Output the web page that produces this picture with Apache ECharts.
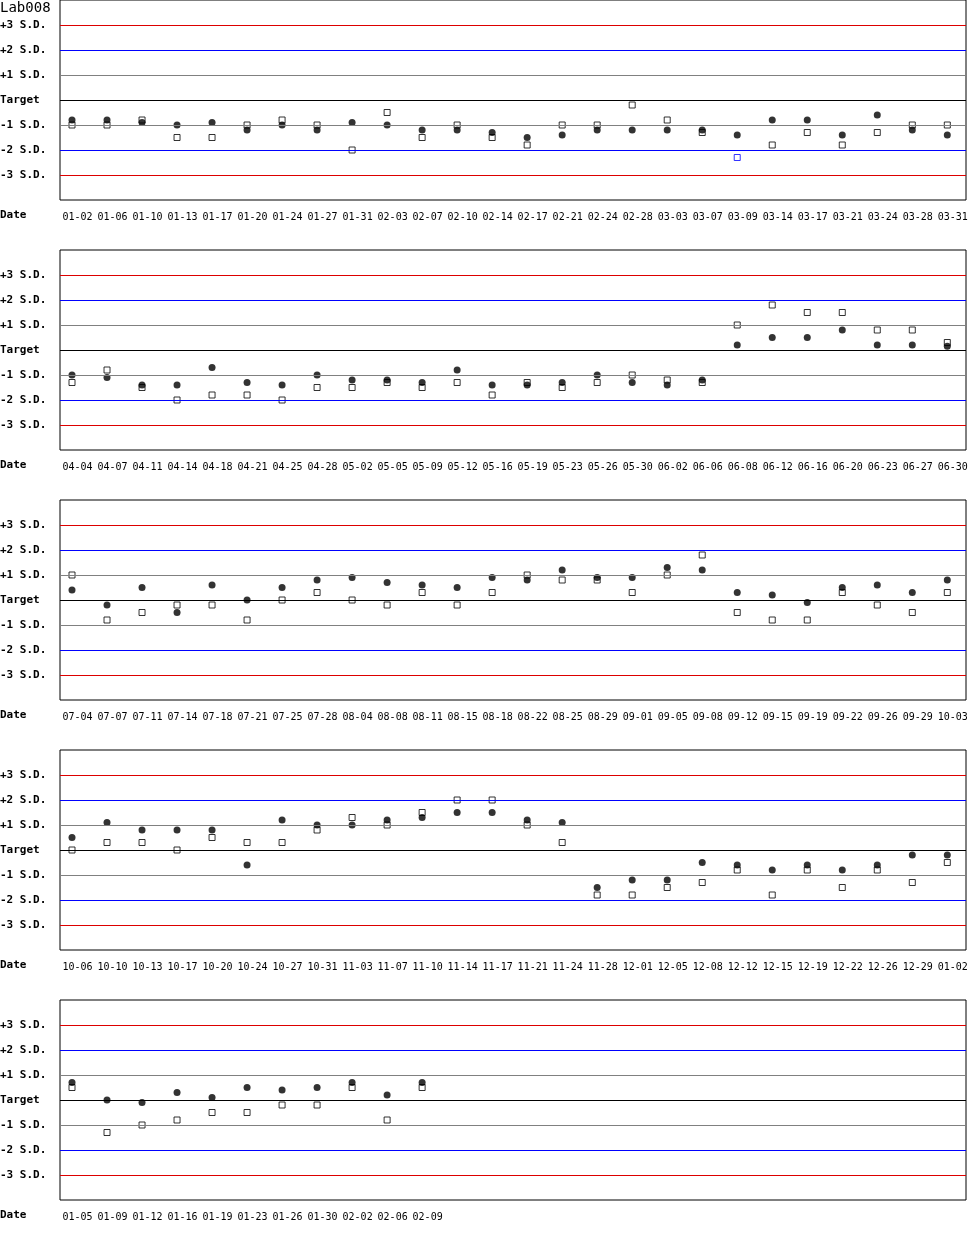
<!DOCTYPE html>
<html>
<head>
<meta charset="utf-8">
<script src="https://cdn.jsdelivr.net/npm/echarts@6/dist/echarts.min.js"></script>
<style>
html,body{margin:0;padding:0;background:#fff;}
#chart{width:970px;height:1250px;}
</style>
</head>
<body>
<div id="chart"></div>
<script>
var chartTitle = 'Lab008';
var xAxisName = 'Date';

var yTickValues = [-3, -2, -1, 0, 1, 2, 3];
var yTickLabels = ['-3 S.D.', '-2 S.D.', '-1 S.D.', 'Target', '+1 S.D.', '+2 S.D.', '+3 S.D.'];

var dates1 = ['01-02','01-06','01-10','01-13','01-17','01-20','01-24','01-27','01-31','02-03','02-07','02-10','02-14','02-17','02-21','02-24','02-28','03-03','03-07','03-09','03-14','03-17','03-21','03-24','03-28','03-31'];
var circle1 = [-0.8,-0.8,-0.9,-1.0,-0.9,-1.2,-1.0,-1.2,-0.9,-1.0,-1.2,-1.2,-1.3,-1.5,-1.4,-1.2,-1.2,-1.2,-1.2,-1.4,-0.8,-0.8,-1.4,-0.6,-1.2,-1.4];
var square1 = [-1.0,-1.0,-0.8,-1.5,-1.5,-1.0,-0.8,-1.0,-2.0,-0.5,-1.5,-1.0,-1.5,-1.8,-1.0,-1.0,-0.2,-0.8,-1.3,-2.3,-1.8,-1.3,-1.8,-1.3,-1.0,-1.0];

var dates2 = ['04-04','04-07','04-11','04-14','04-18','04-21','04-25','04-28','05-02','05-05','05-09','05-12','05-16','05-19','05-23','05-26','05-30','06-02','06-06','06-08','06-12','06-16','06-20','06-23','06-27','06-30'];
var circle2 = [-1.0,-1.1,-1.4,-1.4,-0.7,-1.3,-1.4,-1.0,-1.2,-1.2,-1.3,-0.8,-1.4,-1.4,-1.3,-1.0,-1.3,-1.4,-1.2,0.2,0.5,0.5,0.8,0.2,0.2,0.15];
var square2 = [-1.3,-0.8,-1.5,-2.0,-1.8,-1.8,-2.0,-1.5,-1.5,-1.3,-1.5,-1.3,-1.8,-1.3,-1.5,-1.3,-1.0,-1.2,-1.3,1.0,1.8,1.5,1.5,0.8,0.8,0.3];

var dates3 = ['07-04','07-07','07-11','07-14','07-18','07-21','07-25','07-28','08-04','08-08','08-11','08-15','08-18','08-22','08-25','08-29','09-01','09-05','09-08','09-12','09-15','09-19','09-22','09-26','09-29','10-03'];
var circle3 = [0.4,-0.2,0.5,-0.5,0.6,0.0,0.5,0.8,0.9,0.7,0.6,0.5,0.9,0.8,1.2,0.9,0.9,1.3,1.2,0.3,0.2,-0.1,0.5,0.6,0.3,0.8];
var square3 = [1.0,-0.8,-0.5,-0.2,-0.2,-0.8,0.0,0.3,0.0,-0.2,0.3,-0.2,0.3,1.0,0.8,0.8,0.3,1.0,1.8,-0.5,-0.8,-0.8,0.3,-0.2,-0.5,0.3];

var dates4 = ['10-06','10-10','10-13','10-17','10-20','10-24','10-27','10-31','11-03','11-07','11-10','11-14','11-17','11-21','11-24','11-28','12-01','12-05','12-08','12-12','12-15','12-19','12-22','12-26','12-29','01-02'];
var circle4 = [0.5,1.1,0.8,0.8,0.8,-0.6,1.2,1.0,1.0,1.2,1.3,1.5,1.5,1.2,1.1,-1.5,-1.2,-1.2,-0.5,-0.6,-0.8,-0.6,-0.8,-0.6,-0.2,-0.2];
var square4 = [0.0,0.3,0.3,0.0,0.5,0.3,0.3,0.8,1.3,1.0,1.5,2.0,2.0,1.0,0.3,-1.8,-1.8,-1.5,-1.3,-0.8,-1.8,-0.8,-1.5,-0.8,-1.3,-0.5];

var dates5 = ['01-05','01-09','01-12','01-16','01-19','01-23','01-26','01-30','02-02','02-06','02-09'];
var circle5 = [0.7,0.0,-0.1,0.3,0.1,0.5,0.4,0.5,0.7,0.2,0.7];
var square5 = [0.5,-1.3,-1.0,-0.8,-0.5,-0.5,-0.2,-0.2,0.5,-0.8,0.5];

var panels = [
  {dates: dates1, circle: circle1, square: square1},
  {dates: dates2, circle: circle2, square: square2},
  {dates: dates3, circle: circle3, square: square3},
  {dates: dates4, circle: circle4, square: square4},
  {dates: dates5, circle: circle5, square: square5}
];

var MONO = '"DejaVu Sans Mono", "Liberation Mono", monospace';
var lineColors = {3: '#dd0000', 2: '#0000ff', 1: '#808080', 0: '#000000'};

var grids = [], xAxes = [], yAxes = [], series = [], titles = [];

titles.push({
  text: chartTitle, left: 0, top: 1, padding: 0,
  textStyle: {fontFamily: MONO, fontSize: 14, fontWeight: 'normal', color: '#000'}
});

panels.forEach(function (p, k) {
  var top = k * 250;
  grids.push({left: 60, top: top, width: 906, height: 200, show: true,
    outerBoundsMode: 'none', containLabel: false,
    borderColor: '#000', borderWidth: 1, backgroundColor: 'transparent'});
  var idx = p.dates.map(function (d, i) { return i; });
  xAxes.push({
    type: 'value', gridIndex: k, min: -0.343, max: 25.534,
    axisLine: {show: false}, axisTick: {show: false}, splitLine: {show: false},
    axisLabel: {
      customValues: idx,
      margin: 12, fontFamily: MONO, fontSize: 10, color: '#000',
      align: 'center', padding: [0, 0, 0, 11],
      formatter: (function (dates) { return function (v) { var i = Math.round(v); return dates[i] || ''; }; })(p.dates)
    }
  });
  yAxes.push({
    type: 'value', gridIndex: k, min: -4, max: 4, interval: 1,
    axisLine: {show: false}, axisTick: {show: false}, splitLine: {show: false},
    axisLabel: {
      align: 'left', margin: 60, fontFamily: MONO, fontSize: 11, fontWeight: 'bold', color: '#000',
      formatter: function (v) {
        var j = yTickValues.indexOf(v);
        return j >= 0 ? yTickLabels[j] : '';
      }
    }
  });
  titles.push({
    text: xAxisName, left: 0, top: top + 210, padding: 0,
    textStyle: {fontFamily: MONO, fontSize: 11, fontWeight: 'bold', color: '#000'}
  });
  series.push({
    type: 'line', xAxisIndex: k, yAxisIndex: k, data: [], z: 1, silent: true,
    markLine: {
      silent: true, symbol: 'none', animation: false, label: {show: false},
      data: yTickValues.map(function (v) {
        return {yAxis: v, lineStyle: {color: lineColors[Math.abs(v)], width: 1, type: 'solid'}};
      })
    }
  });
  series.push({
    type: 'scatter', xAxisIndex: k, yAxisIndex: k, z: 3, symbol: 'rect', symbolSize: 6,
    data: p.square.map(function (v, i) {
      return {value: [i, v], itemStyle: {color: '#fff', borderWidth: 1,
        borderColor: Math.abs(v) > 3 ? '#dd0000' : (Math.abs(v) > 2 ? '#0000ff' : '#000')}};
    })
  });
  series.push({
    type: 'scatter', xAxisIndex: k, yAxisIndex: k, z: 4, symbol: 'circle', symbolSize: 7,
    data: p.circle.map(function (v, i) {
      return {value: [i, v], itemStyle: {
        color: Math.abs(v) > 3 ? '#dd0000' : (Math.abs(v) > 2 ? '#0000ff' : '#000')}};
    })
  });
});

var chart = echarts.init(document.getElementById('chart'), null, {renderer: 'canvas'});
chart.setOption({
  animation: false,
  backgroundColor: '#fff',
  title: titles,
  grid: grids,
  xAxis: xAxes,
  yAxis: yAxes,
  series: series
});
</script>
</body>
</html>
